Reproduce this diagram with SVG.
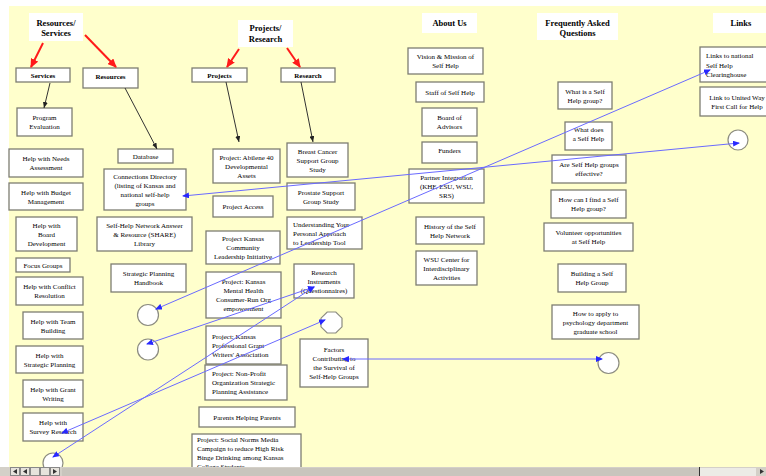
<svg xmlns="http://www.w3.org/2000/svg" width="766" height="476" viewBox="0 0 766 476">
<style>
.bg{fill:#ffffcc}
.box{fill:#ffffff;stroke:#7d7d72;stroke-width:1.3}
.ttl{fill:#ffffff}
.circ{fill:#ffffff;stroke:#8c8c80;stroke-width:1.2}
text{font-family:"Liberation Serif","Times New Roman",serif;font-size:7px;fill:#000;text-anchor:middle}
.l{text-anchor:start}
.b{font-weight:bold}
.tb{font-weight:bold;font-size:8.5px}
.red{stroke:#ff1a1a;stroke-width:2;fill:none}
.blk{stroke:#333333;stroke-width:1;fill:none}
.blue{stroke:#6a6aff;stroke-width:1;fill:none}
</style>
<defs>
<marker id="mr" markerUnits="userSpaceOnUse" markerWidth="9" markerHeight="8" refX="8" refY="4" orient="auto"><path d="M0,0 L9,4 L0,8 z" fill="#ff1a1a"/></marker>
<marker id="mk" markerUnits="userSpaceOnUse" markerWidth="6" markerHeight="5" refX="6" refY="2.5" orient="auto"><path d="M0,0 L6,2.5 L0,5 z" fill="#222"/></marker>
<marker id="mb" markerUnits="userSpaceOnUse" markerWidth="7" markerHeight="6" refX="6" refY="3" orient="auto-start-reverse"><path d="M0,0 L7,3 L0,6 z" fill="#2828ff"/></marker>
</defs>
<rect x="0" y="0" width="766" height="476" fill="#ffffff"/>
<rect class="bg" x="9" y="6" width="757" height="462"/>

<!-- titles -->
<g id="t-resources-services"><rect class="ttl" x="29" y="13" width="54" height="28"/><text class="tb" x="56" y="26">Resources/</text><text class="tb" x="56" y="36">Services</text></g>
<g id="t-projects-research"><rect class="ttl" x="238" y="20" width="55" height="27"/><text class="tb" x="265.5" y="31">Projects/</text><text class="tb" x="265.5" y="42">Research</text></g>
<g id="t-about"><rect class="ttl" x="422" y="13" width="55" height="20"/><text class="tb" x="449.5" y="26">About Us</text></g>
<g id="t-faq"><rect class="ttl" x="537" y="13" width="81" height="27"/><text class="tb" x="577.5" y="26">Frequently Asked</text><text class="tb" x="577.5" y="36">Questions</text></g>
<g id="t-links"><rect class="ttl" x="713" y="13" width="60" height="20"/><text class="tb" x="741" y="26">Links</text></g>

<!-- level 2 -->
<g id="n-services"><rect class="box" x="16" y="68" width="54" height="14"/><text class="b" x="43" y="78">Services</text></g>
<g id="n-resources"><rect class="box" x="83" y="68" width="55" height="20"/><text class="b" x="110.5" y="78.5">Resources</text></g>
<g id="n-projects"><rect class="box" x="192" y="68" width="55" height="14"/><text class="b" x="219.5" y="78">Projects</text></g>
<g id="n-research"><rect class="box" x="281" y="68" width="54" height="14"/><text class="b" x="308" y="78">Research</text></g>

<!-- services column -->
<g id="n-program-evaluation"><rect class="box" x="17" y="108" width="55" height="28"/><text x="44.5" y="120">Program</text><text x="44.5" y="129">Evaluation</text></g>
<g id="n-needs"><rect class="box" x="9" y="149" width="74" height="28"/><text x="46" y="161">Help with Needs</text><text x="46" y="170">Assessment</text></g>
<g id="n-budget"><rect class="box" x="9" y="183" width="74" height="27"/><text x="46" y="194.5">Help with Budget</text><text x="46" y="203.5">Management</text></g>
<g id="n-board-dev"><rect class="box" x="16" y="217" width="61" height="34"/><text x="46.5" y="227.5">Help with</text><text x="46.5" y="236.5">Board</text><text x="46.5" y="245.5">Development</text></g>
<g id="n-focus"><rect class="box" x="16" y="258" width="54" height="14"/><text x="43" y="267.5">Focus Groups</text></g>
<g id="n-conflict"><rect class="box" x="16" y="277" width="67" height="28"/><text x="49.5" y="289">Help with Conflict</text><text x="49.5" y="298">Resolution</text></g>
<g id="n-team"><rect class="box" x="23" y="312" width="60" height="27"/><text x="53" y="323.5">Help with Team</text><text x="53" y="332.5">Building</text></g>
<g id="n-strategic"><rect class="box" x="16" y="346" width="67" height="27"/><text x="49.5" y="357.5">Help with</text><text x="49.5" y="366.5">Strategic Planning</text></g>
<g id="n-grant"><rect class="box" x="23" y="380" width="60" height="27"/><text x="53" y="391.5">Help with Grant</text><text x="53" y="400.5">Writing</text></g>
<g id="n-survey"><rect class="box" x="23" y="413" width="60" height="28"/><text x="53" y="425">Help with</text><text x="53" y="434">Survey Research</text></g>

<!-- resources column -->
<g id="n-database"><rect class="box" x="118" y="149" width="55" height="14"/><text x="145.5" y="158.5">Database</text></g>
<g id="n-connections"><rect class="box" x="104" y="169" width="82" height="41"/><text x="145" y="178.5">Connections Directory</text><text x="145" y="187.5">(listing of Kansas and</text><text x="145" y="196.5">national self-help</text><text x="145" y="205.5">groups</text></g>
<g id="n-share"><rect class="box" x="97" y="217" width="95" height="34"/><text x="144.5" y="227.5">Self-Help Network Answer</text><text x="144.5" y="236.5">&amp; Resource (SHARE)</text><text x="144.5" y="245.5">Library</text></g>
<g id="n-handbook"><rect class="box" x="111" y="264" width="75" height="28"/><text x="148.5" y="276">Strategic Planning</text><text x="148.5" y="285">Handbook</text></g>

<!-- projects column -->
<g id="n-abilene"><rect class="box" x="213" y="149" width="67" height="34"/><text x="246.5" y="159.5">Project: Abilene 40</text><text x="246.5" y="168.5">Developmental</text><text x="246.5" y="177.5">Assets</text></g>
<g id="n-access"><rect class="box" x="213" y="196" width="60" height="21"/><text x="243" y="209">Project Access</text></g>
<g id="n-community"><rect class="box" x="206" y="231" width="74" height="33"/><text x="243" y="241">Project Kansas</text><text x="243" y="250">Community</text><text x="243" y="259">Leadership Initiative</text></g>
<g id="n-mental"><rect class="box" x="206" y="272" width="75" height="46"/><text x="243.5" y="284">Project: Kansas</text><text x="243.5" y="293">Mental Health</text><text x="243.5" y="302">Consumer-Run Org</text><text x="243.5" y="311">empowerment</text></g>
<g id="n-grantwriters"><rect class="box" x="206" y="326" width="75" height="38"/><text class="l" x="212" y="338.5">Project: Kansas</text><text class="l" x="212" y="347.5">Professional Grant</text><text class="l" x="212" y="356.5">Writers' Association</text></g>
<g id="n-nonprofit"><rect class="box" x="205" y="365" width="82" height="35"/><text class="l" x="212" y="376">Project: Non-Profit</text><text class="l" x="212" y="385">Organization Strategic</text><text class="l" x="212" y="394">Planning Assistance</text></g>
<g id="n-parents"><rect class="box" x="199" y="407" width="96" height="20"/><text x="247" y="419.5">Parents Helping Parents</text></g>
<g id="n-social"><rect class="box" x="192" y="434" width="109" height="45"/><text class="l" x="197" y="442">Project: Social Norms Media</text><text class="l" x="197" y="451">Campaign to reduce High Risk</text><text class="l" x="197" y="460">Binge Drinking among Kansas</text><text class="l" x="197" y="469">College Students</text></g>

<!-- research column -->
<g id="n-breast"><rect class="box" x="287" y="143" width="61" height="34"/><text x="317.5" y="153.5">Breast Cancer</text><text x="317.5" y="162.5">Support Group</text><text x="317.5" y="171.5">Study</text></g>
<g id="n-prostate"><rect class="box" x="287" y="183" width="68" height="27"/><text x="321" y="194.5">Prostate Support</text><text x="321" y="203.5">Group Study</text></g>
<g id="n-understanding"><rect class="box" x="287" y="217" width="75" height="32"/><text class="l" x="293" y="226.5">Understanding Your</text><text class="l" x="293" y="235.5">Personal Approach</text><text class="l" x="293" y="244.5">to Leadership Tool</text></g>
<g id="n-instruments"><rect class="box" x="294" y="264" width="60" height="34"/><text x="324" y="274.5">Research</text><text x="324" y="283.5">Instruments</text><text x="324" y="292.5">(Questionnaires)</text></g>
<g id="n-factors"><rect class="box" x="300" y="339" width="68" height="48"/><text x="334" y="352">Factors</text><text x="334" y="361">Contributing to</text><text x="334" y="370">the Survival of</text><text x="334" y="379">Self-Help Groups</text></g>

<!-- about us column -->
<g id="n-vision"><rect class="box" x="408" y="48" width="75" height="26"/><text x="445.5" y="59">Vision &amp; Mission of</text><text x="445.5" y="68">Self Help</text></g>
<g id="n-staff"><rect class="box" x="416" y="82" width="68" height="20"/><text x="450" y="94.5">Staff of Self Help</text></g>
<g id="n-advisors"><rect class="box" x="422" y="108" width="55" height="28"/><text x="449.5" y="120">Board of</text><text x="449.5" y="129">Advisors</text></g>
<g id="n-funders"><rect class="box" x="422" y="142" width="55" height="21"/><text x="449.5" y="153">Funders</text></g>
<g id="n-partner"><rect class="box" x="409" y="169" width="75" height="34"/><text x="446.5" y="179.5">Partner Integration</text><text x="446.5" y="188.5">(KHF, ESU, WSU,</text><text x="446.5" y="197.5">SRS)</text></g>
<g id="n-history"><rect class="box" x="416" y="217" width="68" height="27"/><text x="450" y="228.5">History of the Self</text><text x="450" y="237.5">Help Network</text></g>
<g id="n-wsu"><rect class="box" x="416" y="251" width="61" height="34"/><text x="446.5" y="261.5">WSU Center for</text><text x="446.5" y="270.5">Interdisciplinary</text><text x="446.5" y="279.5">Activities</text></g>

<!-- faq column -->
<g id="n-whatis"><rect class="box" x="558" y="82" width="54" height="27"/><text x="585" y="93.5">What is a Self</text><text x="585" y="102.5">Help group?</text></g>
<g id="n-whatdoes"><rect class="box" x="565" y="122" width="47" height="28"/><text x="588.5" y="131.5">What does</text><text x="588.5" y="140.5">a Self Help</text></g>
<g id="n-effective"><rect class="box" x="552" y="155" width="74" height="28"/><text x="589" y="167">Are Self Help groups</text><text x="589" y="176">effective?</text></g>
<g id="n-find"><rect class="box" x="551" y="190" width="75" height="28"/><text x="588.5" y="202">How can I find a Self</text><text x="588.5" y="211">Help group?</text></g>
<g id="n-volunteer"><rect class="box" x="544" y="223" width="89" height="28"/><text x="588.5" y="235">Volunteer opportunities</text><text x="588.5" y="244">at Self Help</text></g>
<g id="n-building"><rect class="box" x="558" y="264" width="68" height="28"/><text x="592" y="276">Building a Self</text><text x="592" y="285">Help Group</text></g>
<g id="n-apply"><rect class="box" x="552" y="305" width="87" height="34"/><text x="595.5" y="315.5">How to apply to</text><text x="595.5" y="324.5">psychology department</text><text x="595.5" y="333.5">graduate school</text></g>

<!-- links column -->
<g id="n-national"><rect class="box" x="700" y="47" width="80" height="35"/><text class="l" x="706" y="57.5">Links to national</text><text class="l" x="706" y="67.5">Self Help</text><text class="l" x="706" y="76.5">Clearinghouse</text></g>
<g id="n-unitedway"><rect class="box" x="700" y="87" width="80" height="29"/><text x="737" y="99.5">Link to United Way</text><text x="737" y="108.5">First Call for Help</text></g>

<!-- circles -->
<g id="c-links"><circle class="circ" cx="738" cy="140" r="10"/></g>
<g id="c-left1"><circle class="circ" cx="148" cy="315" r="10.5"/></g>
<g id="c-left2"><circle class="circ" cx="148" cy="349.5" r="10.5"/></g>
<g id="c-bottom"><circle class="circ" cx="53" cy="463" r="10"/></g>
<g id="c-octagon"><polygon class="circ" points="327.2,312 335.8,312 342,318.2 342,326.8 335.8,333 327.2,333 321,326.8 321,318.2"/></g>
<g id="c-right"><circle class="circ" cx="608.5" cy="363" r="10.5"/></g>

<!-- connectors -->
<g id="connectors">
<line class="red" x1="43" y1="43" x2="31" y2="67" marker-end="url(#mr)"/>
<line class="red" x1="85" y1="35" x2="116" y2="67" marker-end="url(#mr)"/>
<line class="red" x1="239" y1="49" x2="227" y2="67" marker-end="url(#mr)"/>
<line class="red" x1="287" y1="48" x2="300" y2="67" marker-end="url(#mr)"/>
<line class="blk" x1="50" y1="83" x2="44" y2="108" marker-end="url(#mk)"/>
<line class="blk" x1="125" y1="88" x2="157" y2="149" marker-end="url(#mk)"/>
<line class="blk" x1="226" y1="82" x2="239" y2="142" marker-end="url(#mk)"/>
<line class="blk" x1="301" y1="82" x2="313" y2="142" marker-end="url(#mk)"/>
<line class="blue" x1="156" y1="309" x2="710" y2="70" marker-start="url(#mb)" marker-end="url(#mb)"/>
<line class="blue" x1="183" y1="196" x2="739" y2="143" marker-start="url(#mb)" marker-end="url(#mb)"/>
<line class="blue" x1="147" y1="344" x2="314" y2="287" marker-start="url(#mb)" marker-end="url(#mb)"/>
<line class="blue" x1="53" y1="457" x2="314" y2="287" marker-start="url(#mb)" marker-end="url(#mb)"/>
<line class="blue" x1="62" y1="433" x2="325" y2="320" marker-start="url(#mb)" marker-end="url(#mb)"/>
<line class="blue" x1="343" y1="359" x2="602" y2="359" marker-start="url(#mb)" marker-end="url(#mb)"/>
</g>

<!-- bottom scrollbar -->
<g id="scrollbar">
<rect x="0" y="467" width="766" height="9" fill="#d4d0c8"/>
<rect x="62" y="468" width="637" height="8" fill="#c9c5bd"/>
<rect x="700" y="468" width="56" height="8" fill="#ecebe6"/>
<line x1="699.5" y1="467" x2="699.5" y2="476" stroke="#333" stroke-width="1"/>
<rect x="10.5" y="467.5" width="9" height="8" fill="#e6e3dc" stroke="#888"/>
<rect x="20.5" y="467.5" width="9" height="8" fill="#e6e3dc" stroke="#888"/>
<rect x="30.5" y="467.5" width="9" height="8" fill="#e6e3dc" stroke="#888"/>
<rect x="40.5" y="467.5" width="9" height="8" fill="#e6e3dc" stroke="#888"/>
<rect x="50.5" y="467.5" width="9" height="8" fill="#e6e3dc" stroke="#888"/>
<path d="M17,469 L13,471.5 L17,474 z M27,469 L23,471.5 L27,474 z M53,469 L57,471.5 L53,474 z M760,469 L764,471.5 L760,474 z" fill="#333"/>
</g>
</svg>
